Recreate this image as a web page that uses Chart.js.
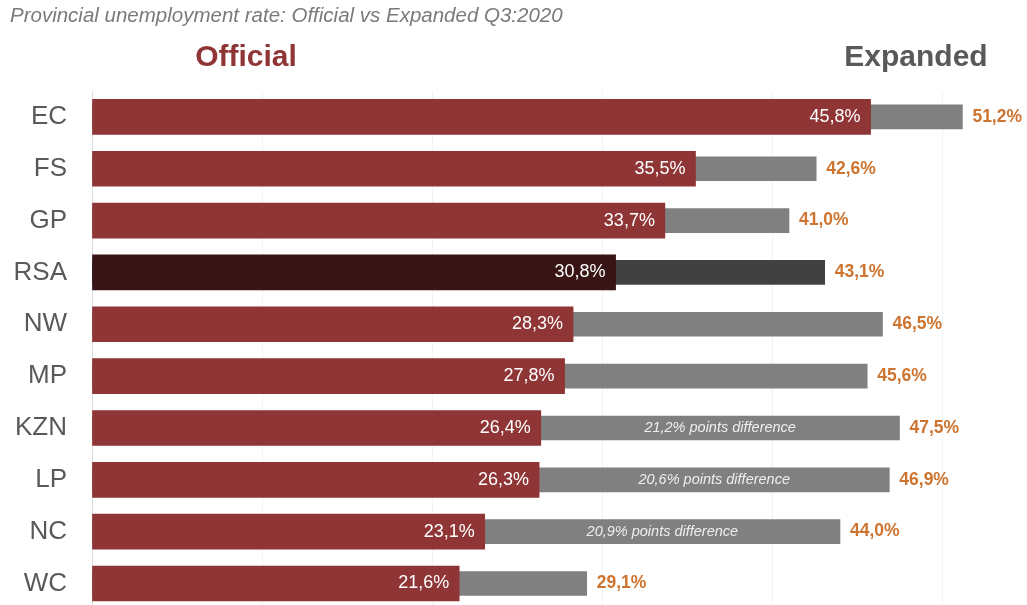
<!DOCTYPE html>
<html>
<head>
<meta charset="utf-8">
<script src="https://cdn.jsdelivr.net/npm/chart.js@4"></script>
<style>
  html, body { margin: 0; padding: 0; background: #fff; overflow: hidden; }
</style>
</head>
<body>
<canvas id="rateChart" width="1027" height="650"></canvas>
<script>
const provinces = ['EC', 'FS', 'GP', 'RSA', 'NW', 'MP', 'KZN', 'LP', 'NC', 'WC'];
const officialRate = [45.8, 35.5, 33.7, 30.8, 28.3, 27.8, 26.4, 26.3, 23.1, 21.6];
const expandedRate = [51.2, 42.6, 41.0, 43.1, 46.5, 45.6, 47.5, 46.9, 44.0, 29.1];
const gapNotes = ['', '', '', '', '', '', '21,2% points difference', '20,6% points difference', '20,9% points difference', ''];

const fmt = v => v.toFixed(1).replace('.', ',') + '%';

const officialColors = provinces.map(p => p === 'RSA' ? '#391414' : '#8f3535');
const expandedColors = provinces.map(p => p === 'RSA' ? '#414141' : '#808080');

const FONT = '"Liberation Sans", Arial, sans-serif';

// headings above the plot and value labels on the bars
const labelsPlugin = {
    id: 'barLabels',
    afterDatasetsDraw(chart) {
        const ctx = chart.ctx;
        const x = chart.scales.x;
        const off = chart.getDatasetMeta(0).data;
        const exp = chart.getDatasetMeta(1).data;
        ctx.save();
        ctx.textBaseline = 'middle';
        off.forEach((bar, i) => {
            ctx.fillStyle = '#ffffff';
            ctx.font = '18px ' + FONT;
            ctx.textAlign = 'right';
            ctx.fillText(fmt(officialRate[i]), bar.x - 10, bar.y);

            ctx.fillStyle = '#cd7430';
            ctx.font = 'bold 17.5px ' + FONT;
            ctx.textAlign = 'left';
            ctx.fillText(fmt(expandedRate[i]), exp[i].x + 10, exp[i].y);

            if (gapNotes[i]) {
                ctx.fillStyle = '#eeeeee';
                ctx.font = 'italic 14.5px ' + FONT;
                ctx.textAlign = 'center';
                const mid = (x.getPixelForValue(officialRate[i]) + x.getPixelForValue(expandedRate[i])) / 2;
                ctx.fillText(gapNotes[i], mid, exp[i].y);
            }
        });

        ctx.textBaseline = 'alphabetic';
        ctx.textAlign = 'left';
        ctx.fillStyle = '#7a7a7a';
        ctx.font = 'italic 20.5px ' + FONT;
        ctx.fillText('Provincial unemployment rate: Official vs Expanded Q3:2020', 10, 22);

        ctx.textAlign = 'center';
        ctx.font = 'bold 30px ' + FONT;
        ctx.fillStyle = '#8f3535';
        ctx.fillText('Official', 246, 66);
        ctx.fillStyle = '#595959';
        ctx.fillText('Expanded', 916, 66);
        ctx.restore();
    }
};

new Chart(document.getElementById('rateChart'), {
    type: 'bar',
    data: {
        labels: provinces,
        datasets: [
            {
                label: 'Official',
                data: officialRate,
                backgroundColor: officialColors,
                barThickness: 35,
                order: 0
            },
            {
                label: 'Expanded',
                data: expandedRate,
                backgroundColor: expandedColors,
                barThickness: 24,
                order: 1
            }
        ]
    },
    options: {
        indexAxis: 'y',
        responsive: false,
        animation: false,
        grouped: false,
        layout: { padding: { top: 91, right: 0, bottom: 0, left: 0 } },
        plugins: {
            legend: { display: false },
            tooltip: { enabled: false }
        },
        scales: {
            x: {
                min: 0,
                max: 55,
                afterFit(scale) { scale.height = 0; },
                ticks: { display: false, stepSize: 10 },
                grid: { color: '#f2f2f2', drawTicks: false },
                border: { display: false }
            },
            y: {
                afterFit(scale) { scale.width = 92; },
                ticks: {
                    padding: 25,
                    color: '#595959',
                    font: { size: 26, family: FONT }
                },
                grid: { display: false, drawTicks: false },
                border: { display: true, color: '#dddddd' }
            }
        }
    },
    plugins: [labelsPlugin]
});
</script>
</body>
</html>
